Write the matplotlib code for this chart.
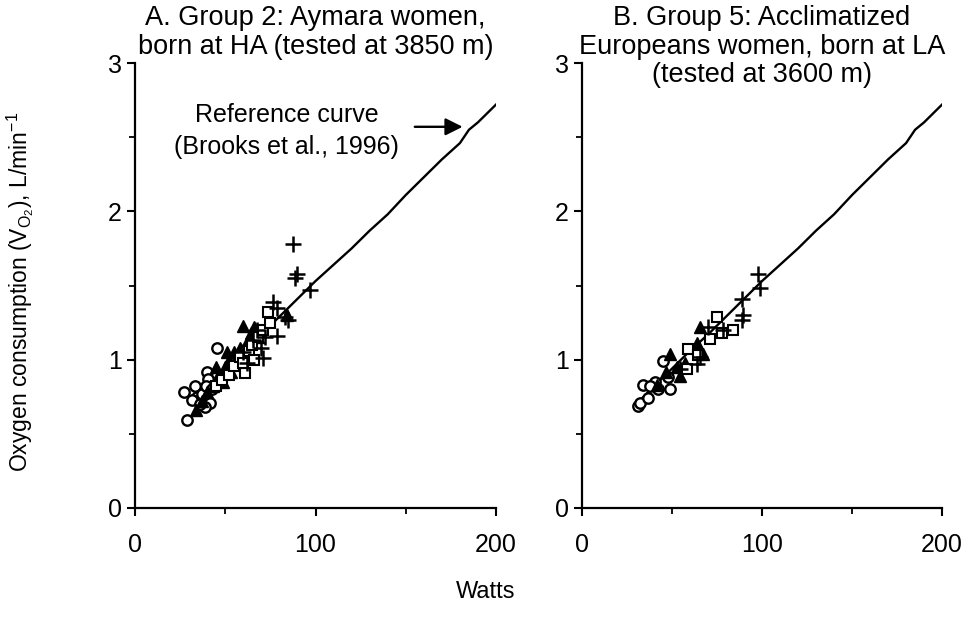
import matplotlib
matplotlib.use("Agg")
import numpy as np
from matplotlib import pyplot as plt

plt.rcParams['font.family'] = ['Liberation Sans', 'DejaVu Sans']

# curva de referencia (Brooks et al., 1996)
ref_w = [30, 40, 50, 60, 70, 80, 90, 100, 110, 120, 130, 140, 150, 160, 170, 180, 185, 190, 200]
ref_v = [0.70, 0.82, 0.94, 1.06, 1.17, 1.29, 1.41, 1.53, 1.64, 1.75, 1.87, 1.98, 2.11, 2.23, 2.35, 2.46, 2.55, 2.60, 2.72]

# painel A - Aymara
a_circ_w = [28.6, 27.3, 33.2, 45.3, 40.1, 40.6, 41.5, 34.2, 37.0, 38.8, 39.6, 31.4, 36.0, 42.5]
a_circ_v = [0.59, 0.78, 0.82, 1.08, 0.92, 0.87, 0.71, 0.75, 0.77, 0.68, 0.82, 0.73, 0.70, 0.80]
a_tri_w = [34, 37, 40, 43, 45, 47, 49, 50, 52, 53, 55, 56, 58, 60, 62, 64, 66, 68, 84, 45, 51]
a_tri_v = [0.66, 0.72, 0.78, 0.82, 0.86, 0.90, 0.85, 0.95, 1.00, 0.92, 1.05, 0.98, 1.08, 1.23, 1.12, 1.18, 1.22, 1.15, 1.30, 0.95, 1.05]
a_sq_w = [45, 48, 52, 55, 58, 61, 63, 65, 68, 71, 73.5, 75, 60, 66]
a_sq_v = [0.82, 0.86, 0.90, 0.96, 1.02, 0.91, 1.06, 1.10, 1.15, 1.20, 1.32, 1.25, 0.98, 1.00]
a_plus_w = [87.3, 89.6, 88.7, 97.0, 76.6, 78.5, 71.0, 70.0, 78.5, 67.4, 83.0, 85.0, 65.5, 71.8, 60.0, 62.0]
a_plus_v = [1.78, 1.58, 1.55, 1.47, 1.39, 1.35, 1.01, 1.08, 1.16, 1.20, 1.29, 1.27, 1.13, 1.15, 1.05, 0.98]

# painel B - europeias aclimatadas
b_circ_w = [31.3, 32.0, 36.8, 34.1, 40.6, 45.2, 48.9, 42.4, 47.5, 38.0]
b_circ_v = [0.69, 0.71, 0.74, 0.83, 0.85, 0.99, 0.80, 0.80, 0.88, 0.82]
b_tri_w = [48.9, 52.6, 65.6, 63.7, 67.4, 46.5, 54.4, 57.0, 41.5]
b_tri_v = [1.04, 0.95, 1.22, 1.11, 1.04, 0.92, 0.89, 0.98, 0.83]
b_sq_w = [74.8, 84.0, 77.6, 71.0, 59.0, 58.1, 64.6]
b_sq_v = [1.29, 1.20, 1.18, 1.14, 1.07, 0.94, 1.03]
b_plus_w = [98.0, 98.9, 88.7, 89.6, 88.7, 70.2, 78.5, 65.6, 63.7, 54.4]
b_plus_v = [1.58, 1.48, 1.41, 1.30, 1.27, 1.22, 1.20, 1.02, 0.97, 0.94]

titles = ["A. Group 2: Aymara women,\nborn at HA (tested at 3850 m)",
          "B. Group 5: Acclimatized\nEuropeans women, born at LA\n(tested at 3600 m)"]

fig = plt.figure(figsize=(9.72, 6.27), dpi=100)
axA = fig.add_axes([0.1389, 0.1898, 0.3714, 0.7097])
axB = fig.add_axes([0.5988, 0.1898, 0.3704, 0.7097])

panels = [
    (axA, a_circ_w, a_circ_v, a_tri_w, a_tri_v, a_sq_w, a_sq_v, a_plus_w, a_plus_v),
    (axB, b_circ_w, b_circ_v, b_tri_w, b_tri_v, b_sq_w, b_sq_v, b_plus_w, b_plus_v),
]

for i, (ax, cw, cv, tw, tv, sw, sv, pw, pv) in enumerate(panels):
    ax.plot(ref_w, ref_v, color='black', lw=1.7, zorder=2)
    ax.plot(cw, cv, 'o', mfc='white', mec='black', mew=1.7, ms=7.5, ls='none', zorder=3)
    ax.plot(tw, tv, '^', mfc='black', mec='black', ms=9, ls='none', zorder=3)
    ax.plot(sw, sv, 's', mfc='white', mec='black', mew=1.5, ms=7.5, ls='none', zorder=3)
    ax.plot(pw, pv, '+', color='black', mew=1.8, ms=12, ls='none', zorder=4)

    ax.set_xlim(0, 200)
    ax.set_ylim(0, 3)
    ax.set_xticks([0, 100, 200])
    ax.set_xticks([50, 150], minor=True)
    ax.set_yticks([0, 1, 2, 3])
    ax.set_yticks([0.5, 1.5, 2.5], minor=True)
    for s in ['top', 'right']:
        ax.spines[s].set_visible(False)
    for s in ['left', 'bottom']:
        ax.spines[s].set_linewidth(1.6)
    ax.tick_params(which='major', length=6, width=1.5, labelsize=18, direction='out')
    ax.tick_params(which='minor', length=4, width=1.3, direction='out')
    ax.tick_params(axis='x', pad=12)
    ax.text(0.5, 1.13, titles[i], transform=ax.transAxes, ha='center', va='top',
            fontsize=19.5, linespacing=1.13)

axA.annotate("", xy=(181.5, 2.57), xytext=(155, 2.57),
             arrowprops=dict(arrowstyle='-|>', color='black', lw=1.7, mutation_scale=26,
                             shrinkA=0, shrinkB=0))
axA.text(84, 2.54, "Reference curve\n(Brooks et al., 1996)", ha='center', va='center',
         fontsize=18, linespacing=1.4)

fig.text(0.5, 0.056, "Watts", ha='center', va='center', fontsize=17)
fig.text(0.021, 0.535, r"Oxygen consumption (V$_{\mathregular{O_2}}$), L/min$^{\mathregular{-1}}$",
         rotation=90, ha='center', va='center', fontsize=16.5)

plt.savefig("out.png", dpi=100)
